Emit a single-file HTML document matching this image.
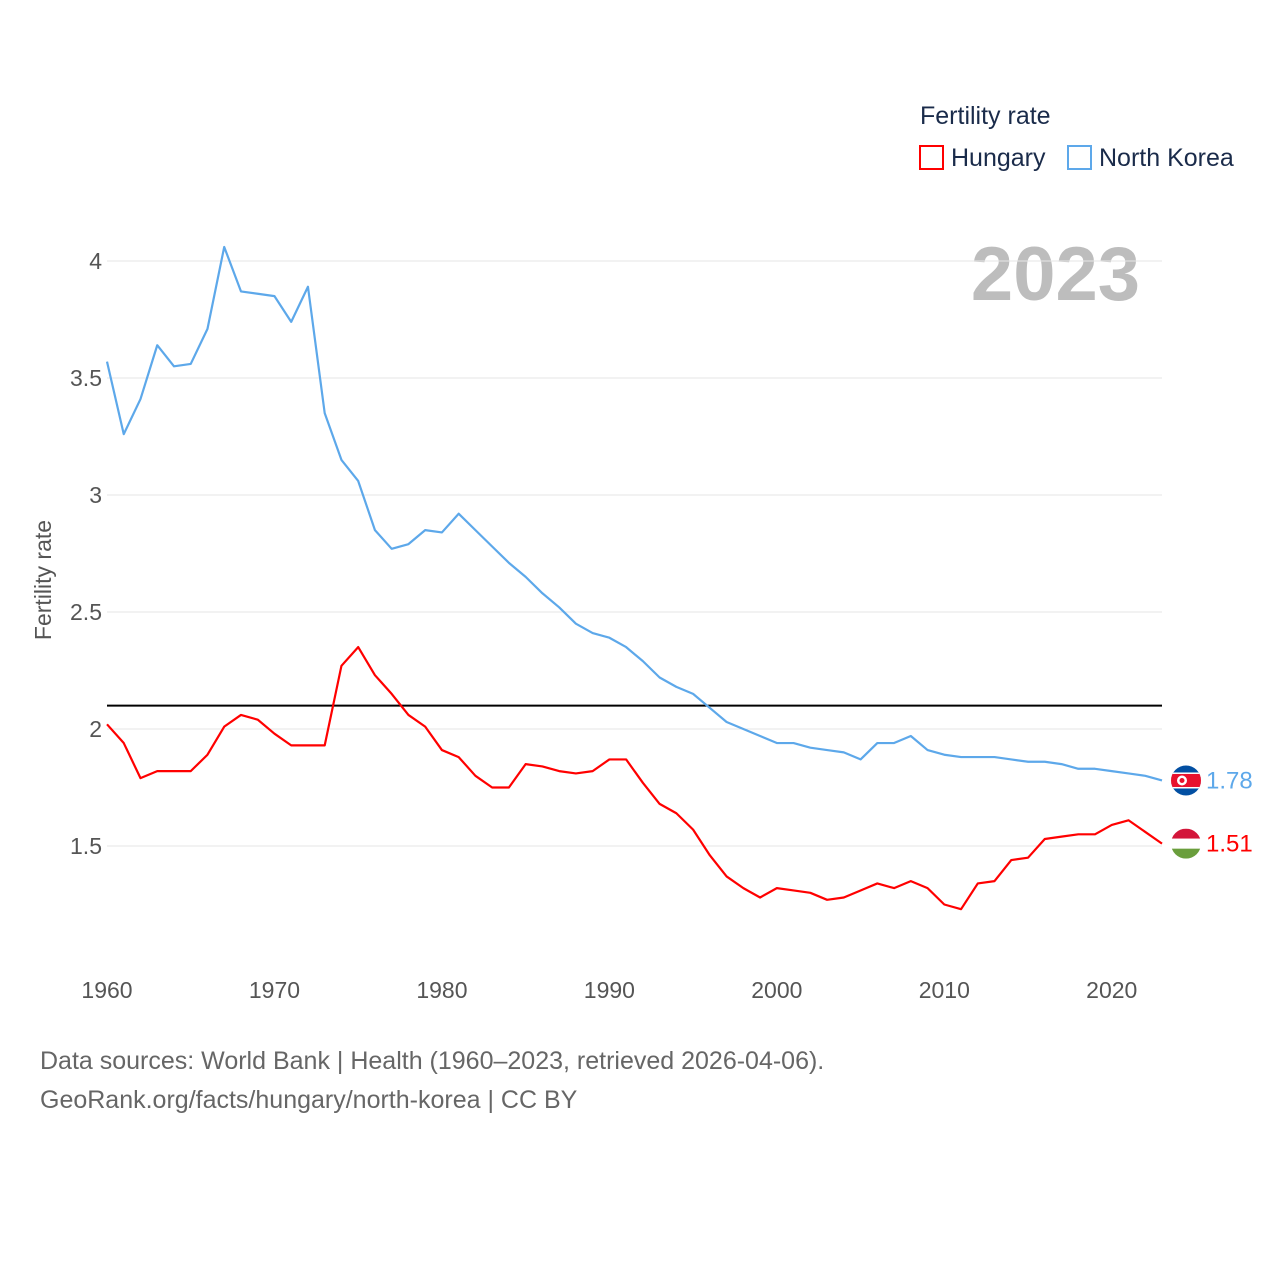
<!DOCTYPE html>
<html><head><meta charset="utf-8"><style>
body{margin:0;background:#fff;}
svg text{font-family:"Liberation Sans",sans-serif;}
</style></head><body>
<svg id="chart" width="1280" height="1280" xmlns="http://www.w3.org/2000/svg">
<defs>
<clipPath id="clipNK"><circle id="cNK" cx="1186" cy="0" r="15"/></clipPath>
<clipPath id="clipHU"><circle id="cHU" cx="1186" cy="0" r="15"/></clipPath>
</defs>
<text x="920" y="124" font-size="25" fill="#1a2b4a">Fertility rate</text>
<rect x="920" y="146" width="23" height="23" fill="none" stroke="#f00" stroke-width="2"/>
<text x="951" y="166" font-size="25" fill="#1a2b4a">Hungary</text>
<rect x="1068" y="146" width="23" height="23" fill="none" stroke="#5da8ea" stroke-width="2"/>
<text x="1099" y="166" font-size="25" fill="#1a2b4a">North Korea</text>
<text x="1140" y="300" font-size="76" font-weight="bold" fill="#bdbdbd" text-anchor="end">2023</text>
<text transform="translate(51,580) rotate(-90)" font-size="23" fill="#555" text-anchor="middle">Fertility rate</text>
<g id="grid"></g><g id="series"></g>
<text x="40" y="1069" font-size="25" fill="#666">Data sources: World Bank | Health (1960–2023, retrieved 2026-04-06).</text>
<text x="40" y="1108" font-size="25" fill="#666">GeoRank.org/facts/hungary/north-korea | CC BY</text>
</svg>
<script>
const years=[];for(let y=1960;y<=2023;y++)years.push(y);
const northKorea=[3.57,3.26,3.41,3.64,3.55,3.56,3.71,4.06,3.87,3.86,3.85,3.74,3.89,3.35,3.15,3.06,2.85,2.77,2.79,2.85,2.84,2.92,2.85,2.78,2.71,2.65,2.58,2.52,2.45,2.41,2.39,2.35,2.29,2.22,2.18,2.15,2.09,2.03,2.00,1.97,1.94,1.94,1.92,1.91,1.90,1.87,1.94,1.94,1.97,1.91,1.89,1.88,1.88,1.88,1.87,1.86,1.86,1.85,1.83,1.83,1.82,1.81,1.80,1.78];
const hungary=[2.02,1.94,1.79,1.82,1.82,1.82,1.89,2.01,2.06,2.04,1.98,1.93,1.93,1.93,2.27,2.35,2.23,2.15,2.06,2.01,1.91,1.88,1.80,1.75,1.75,1.85,1.84,1.82,1.81,1.82,1.87,1.87,1.77,1.68,1.64,1.57,1.46,1.37,1.32,1.28,1.32,1.31,1.30,1.27,1.28,1.31,1.34,1.32,1.35,1.32,1.25,1.23,1.34,1.35,1.44,1.45,1.53,1.54,1.55,1.55,1.59,1.61,1.56,1.51];
const yTicks=[1.5,2,2.5,3,3.5,4];
const xTicks=[1960,1970,1980,1990,2000,2010,2020];
const replacement=2.1;
const X=y=>107+(y-1960)*(1162-107)/63;
const Y=v=>729-(v-2)*234;
const NS="http://www.w3.org/2000/svg";
const g=document.getElementById('grid'),s=document.getElementById('series');
function mk(tag,at,parent){const e=document.createElementNS(NS,tag);for(const k in at)e.setAttribute(k,at[k]);parent.appendChild(e);return e;}
yTicks.forEach(v=>{
 const l=mk('line',{x1:107,x2:1162,y1:Y(v),y2:Y(v),stroke:'#e6e6e6','stroke-width':1},g);
 
 
 const t=mk('text',{x:102,y:Y(v)+8,'font-size':23,fill:'#555','text-anchor':'end'},g);t.textContent=v;
 
 
});
xTicks.forEach(v=>{
 const t=mk('text',{x:X(v),y:998,'font-size':23,fill:'#555','text-anchor':'middle'},g);t.textContent=v;
 
 
});
const rl=mk('line',{x1:107,x2:1162,y1:Y(replacement),y2:Y(replacement),stroke:'#000','stroke-width':2},g);


function line(data,color,name){
 const p=mk('polyline',{points:data.map((v,i)=>X(years[i])+','+Y(v)).join(' '),fill:'none',stroke:color,'stroke-width':2.2,'stroke-linejoin':'round'},s);
 
 
 const last=data[data.length-1],cy=Y(last);
 const t=mk('text',{x:1206,y:cy+8,'font-size':24,fill:color},s);t.textContent=last.toFixed(2);
 
 
 return cy;
}
const nky=line(northKorea,'#5da8ea','north-korea');
document.getElementById('cNK').setAttribute('cy',nky);
const fnk=mk('g',{'clip-path':'url(#clipNK)'},s);


mk('rect',{x:1171,y:nky-15,width:30,height:30,fill:'#024fa2'},fnk);
mk('rect',{x:1171,y:nky-8,width:30,height:16,fill:'#fff'},fnk);
mk('rect',{x:1171,y:nky-6.5,width:30,height:13,fill:'#e8112d'},fnk);
mk('circle',{cx:1182,cy:nky,r:5,fill:'#fff'},fnk);
mk('circle',{cx:1182,cy:nky,r:2.5,fill:'#e8112d'},fnk);
const hy=line(hungary,'#ff0000','hungary');
document.getElementById('cHU').setAttribute('cy',hy);
const fhu=mk('g',{'clip-path':'url(#clipHU)'},s);


mk('rect',{x:1171,y:hy-15,width:30,height:10,fill:'#d3163a'},fhu);
mk('rect',{x:1171,y:hy-5,width:30,height:10,fill:'#fff'},fhu);
mk('rect',{x:1171,y:hy+5,width:30,height:10,fill:'#6a9e3c'},fhu);
</script>
</body></html>
